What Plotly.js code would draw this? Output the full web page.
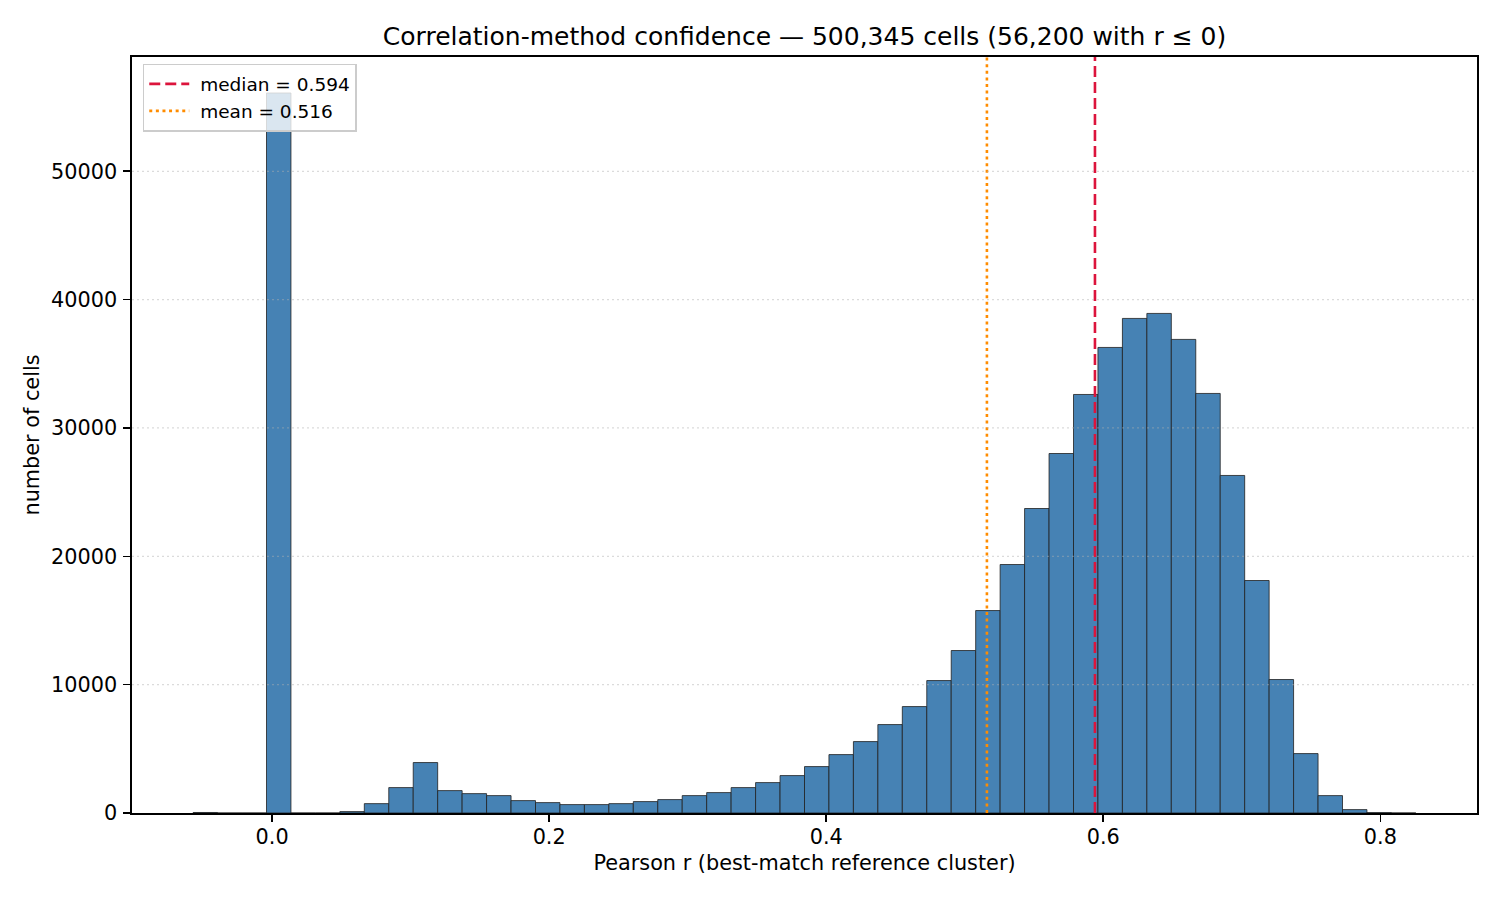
<!DOCTYPE html>
<html>
<head>
<meta charset="utf-8">
<script src="https://cdn.plot.ly/plotly-3.0.1.min.js"></script>
<style>
body { margin: 0; background: #fff; }
#chart { width: 1500px; height: 900px; }
</style>
</head>
<body>
<div id="chart"></div>
<script>
// histogram of best-match Pearson r, 50 equal-width bins
const binStart = -0.0570;
const binWidth = 0.017653;
const binCounts = [
    40, 0, 0, 56100, 0, 0, 110, 730, 1980, 3930,
    1745, 1510, 1356, 966, 810, 655, 655, 730, 890, 1045,
    1356, 1590, 1980, 2370, 2915, 3617, 4550, 5565, 6890, 8293,
    10320, 12660, 15775, 19360, 23725, 28010, 32610, 36275, 38535, 38925,
    36900, 32690, 26300, 18115, 10400, 4630, 1356, 265, 30, 2
];
const medianR = 0.594;
const meanR = 0.516;
const xTicks = [0.0, 0.2, 0.4, 0.6, 0.8];
const yTicks = [0, 10000, 20000, 30000, 40000, 50000];

function plot_hist(div_id){
    let d_hist = document.querySelector(div_id);
    if (!d_hist){
        return;
    }

    let centers = binCounts.map((c, i) => binStart + (i + 0.5) * binWidth);
    let binEnd = binStart + binCounts.length * binWidth;
    let span = binEnd - binStart;
    let xRange = [binStart - 0.05 * span, binEnd + 0.05 * span];
    let yTop = 1.05 * Math.max(...binCounts);

    let trace_bars = {
        type: "bar",
        x: centers,
        y: binCounts,
        width: binWidth,
        marker: {
            color: "#4682b4",
            line: {color: "#1f1f1f", width: 0.8}
        },
        showlegend: false,
        hoverinfo: "x+y"
    };

    // leading nbsp pushes the label off the short legend line, like matplotlib
    let trace_median = {
        type: "scatter",
        mode: "lines",
        x: [medianR, medianR],
        y: [0, yTop],
        name: "\u00a0median = " + medianR.toFixed(3),
        line: {color: "#dc143c", width: 2.6, dash: "11px,5px"}
    };

    let trace_mean = {
        type: "scatter",
        mode: "lines",
        x: [meanR, meanR],
        y: [0, yTop],
        name: "\u00a0mean = " + meanR.toFixed(3),
        line: {color: "#ff8c00", width: 2.6, dash: "3px,3.6px"}
    };

    // matplotlib draws the dotted grid over the bars, so use shapes
    let grid = yTicks.filter(v => v > 0).map(v => ({
        type: "line",
        xref: "paper", x0: 0, x1: 1,
        yref: "y", y0: v, y1: v,
        layer: "above",
        line: {color: "rgba(176,176,176,0.45)", width: 1.2, dash: "2px,3px"}
    }));

    let font = {family: "DejaVu Sans, Verdana, sans-serif", color: "#000"};

    let layout = {
        width: 1500,
        height: 900,
        paper_bgcolor: "#fff",
        plot_bgcolor: "#fff",
        font: Object.assign({size: 20.8}, font),
        margin: {l: 132, r: 23, t: 57, b: 87, pad: 0},
        bargap: 0,
        title: {
            text: "Correlation-method confidence \u2014 500,345 cells (56,200 with r \u2264 0)",
            font: Object.assign({size: 25}, font),
            xref: "paper", x: 0.5, xanchor: "center",
            yref: "container", y: 1 - 36 / 900, yanchor: "middle"
        },
        xaxis: {
            range: xRange,
            tickvals: xTicks,
            tickformat: ".1f",
            ticks: "outside",
            ticklen: 7,
            tickwidth: 1.6,
            tickcolor: "#000",
            ticklabelstandoff: -3,
            showgrid: false,
            zeroline: false,
            showline: true,
            mirror: true,
            linecolor: "#000",
            linewidth: 1.6,
            title: {text: "Pearson r (best-match reference cluster)", standoff: 8, font: Object.assign({size: 20.8}, font)}
        },
        yaxis: {
            range: [0, yTop],
            tickvals: yTicks,
            tickformat: "d",
            ticks: "outside",
            ticklen: 7,
            tickwidth: 1.6,
            tickcolor: "#000",
            ticklabelstandoff: 2,
            showgrid: false,
            zeroline: false,
            showline: true,
            mirror: true,
            linecolor: "#000",
            linewidth: 1.6,
            title: {text: "number of cells", standoff: 6, font: Object.assign({size: 20.8}, font)}
        },
        legend: {
            x: 0.008, y: 0.991,
            xanchor: "left", yanchor: "top",
            bgcolor: "rgba(255,255,255,0.8)",
            bordercolor: "#cccccc",
            borderwidth: 1.5,
            itemwidth: 40,
            font: Object.assign({size: 18.5}, font)
        },
        shapes: grid
    };

    return Plotly.newPlot(d_hist, [trace_bars, trace_median, trace_mean], layout, {displayModeBar: false, staticPlot: true});
}

plot_hist("#chart");
</script>
</body>
</html>
